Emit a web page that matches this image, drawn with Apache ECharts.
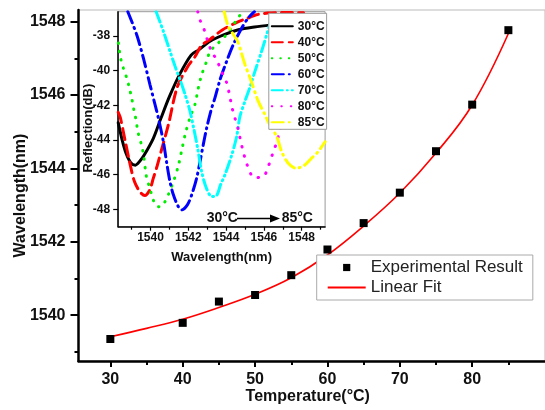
<!DOCTYPE html>
<html>
<head>
<meta charset="utf-8">
<script src="https://cdn.jsdelivr.net/npm/echarts@6/dist/echarts.min.js"></script>
<style>
html, body { margin: 0; padding: 0; background: #fff; }
#main { width: 545px; height: 410px; }
</style>
</head>
<body>
<div id="main"></div>
<script>
// main plot: peak wavelength vs temperature
var temps = [30, 40, 45, 50, 55, 60, 65, 70, 75, 80, 85];
var peakWl = [1539.35, 1539.79, 1540.37, 1540.55, 1541.09, 1541.79, 1542.51, 1543.34, 1544.47, 1545.74, 1547.77];
var fitT = [30, 35, 40, 45, 50, 55, 60, 65, 70, 75, 80, 85];
var fitWl = [1539.41, 1539.64, 1539.89, 1540.21, 1540.57, 1541.02, 1541.64, 1542.43, 1543.33, 1544.42, 1545.73, 1547.68];
var tempTicks = [30, 40, 50, 60, 70, 80];
var tempMinor = [35, 45, 55, 65, 75, 85];
var wlTicks = [1540, 1542, 1544, 1546, 1548];
var wlMinor = [1539, 1541, 1543, 1545, 1547];

// inset: reflection spectra [wavelength nm, dB]
var specNames = ['30°C', '40°C', '50°C', '60°C', '70°C', '80°C', '85°C'];
var spec30 = [[1538.29,-43.0],[1538.5,-44.0],[1538.7,-44.75],[1538.95,-45.3],[1539.2,-45.45],[1539.45,-45.2],[1539.65,-44.9],[1540.15,-43.9],[1540.55,-42.75],[1541.0,-41.5],[1541.55,-40.2],[1542.15,-39.1],[1542.55,-38.8],[1543.15,-38.3],[1543.9,-37.92],[1544.65,-37.64],[1545.5,-37.48],[1546.4,-37.36]];
var spec40 = [[1538.29,-42.4],[1538.4,-42.7],[1538.65,-44.0],[1538.9,-45.3],[1539.15,-46.4],[1539.45,-47.0],[1539.7,-47.2],[1539.95,-46.9],[1540.15,-46.2],[1540.35,-45.5],[1540.6,-44.5],[1540.95,-43.1],[1541.4,-41.0],[1541.95,-39.8],[1542.35,-39.2],[1542.7,-38.55],[1543.15,-38.2],[1543.8,-37.65],[1544.6,-37.2],[1545.2,-36.95],[1545.6,-36.78],[1546.2,-36.68],[1547.0,-36.65],[1548.1,-36.66]];
var spec50 = [[1538.3,-38.4],[1538.4,-39.2],[1538.56,-39.84],[1538.74,-40.42],[1538.88,-41.0],[1539.0,-41.57],[1539.1,-42.15],[1539.2,-42.65],[1539.35,-43.6],[1539.55,-44.4],[1539.65,-45.0],[1539.78,-46.1],[1539.94,-46.7],[1540.06,-47.15],[1540.24,-47.7],[1540.45,-47.85],[1540.68,-47.7],[1540.94,-47.16],[1541.21,-46.4],[1541.47,-45.5],[1541.65,-44.6],[1541.83,-43.7],[1542.09,-42.7],[1542.35,-41.96],[1542.53,-41.0],[1542.71,-40.23],[1542.97,-39.46],[1543.15,-38.88],[1543.41,-38.59],[1543.94,-38.02],[1544.3,-37.5],[1544.65,-36.92],[1544.9,-36.6]];
var spec60 = [[1538.8,-36.6],[1539.27,-37.93],[1539.62,-39.27],[1539.97,-40.8],[1540.24,-41.96],[1540.41,-42.7],[1540.68,-44.09],[1540.86,-45.34],[1541.03,-46.4],[1541.21,-47.16],[1541.47,-47.84],[1541.65,-48.03],[1541.95,-47.74],[1542.18,-47.16],[1542.44,-46.2],[1542.62,-45.25],[1542.79,-44.28],[1542.97,-43.32],[1543.2,-42.3],[1543.41,-41.57],[1543.68,-40.52],[1544.03,-39.46],[1544.38,-38.5],[1544.83,-37.54],[1545.17,-36.96],[1545.5,-36.6]];
var spec70 = [[1540.3,-36.6],[1540.68,-37.73],[1541.03,-38.88],[1541.3,-39.75],[1541.56,-40.52],[1541.83,-41.38],[1542.09,-42.34],[1542.3,-43.4],[1542.5,-44.5],[1542.7,-45.8],[1542.95,-46.75],[1543.24,-47.26],[1543.5,-47.2],[1543.7,-46.6],[1543.94,-46.0],[1544.3,-44.86],[1544.56,-43.8],[1544.73,-42.65],[1545.0,-41.76],[1545.28,-40.9],[1545.53,-40.03],[1545.88,-38.88],[1546.15,-37.92],[1546.35,-37.2]];
var spec80 = [[1542.5,-36.6],[1542.62,-37.08],[1542.88,-37.75],[1543.06,-38.42],[1543.24,-38.9],[1543.5,-39.38],[1543.77,-40.06],[1544.03,-40.7],[1544.2,-41.5],[1544.3,-42.07],[1544.47,-42.74],[1544.65,-43.42],[1544.74,-43.9],[1544.86,-44.47],[1545.0,-45.05],[1545.17,-45.59],[1545.48,-46.17],[1545.97,-46.11],[1546.23,-45.53],[1546.41,-44.96],[1546.59,-44.42],[1546.76,-43.8],[1546.95,-42.9],[1547.1,-42.0]];
var spec85 = [[1543.9,-36.6],[1544.12,-37.45],[1544.6,-38.3],[1545.0,-39.65],[1545.28,-40.45],[1545.7,-41.76],[1546.04,-42.5],[1546.3,-43.1],[1546.68,-43.8],[1546.94,-44.67],[1547.29,-45.34],[1547.7,-45.63],[1548.17,-45.44],[1548.52,-45.05],[1548.85,-44.7],[1549.24,-44.1]];
var insetXTicks = [1540, 1542, 1544, 1546, 1548];
var insetXMinor = [1539, 1541, 1543, 1545, 1547, 1549];
var insetYTicks = [-48, -46, -44, -42, -40, -38];

var FONT = 'Liberation Sans, Arial, sans-serif';
var specColors = ['#000000', '#ff0000', '#00ee00', '#0000ff', '#00ffff', '#ff00ff', '#ffff00'];
var specDash = ['solid', [11, 6], [0.5, 8], [12, 5, 1, 5], [11, 4, 1, 4, 1, 4], [0.5, 9], [12, 5, 1, 5]];
var specData = [spec30, spec40, spec50, spec60, spec70, spec80, spec85];

var chart = echarts.init(document.getElementById('main'));

function zip(a, b) {
    return a.map(function (v, i) { return [v, b[i]]; });
}
function plain(v) { return String(v); }

var specSeries = specNames.map(function (name, i) {
    return {
        name: name,
        type: 'line',
        xAxisIndex: 2,
        yAxisIndex: 2,
        data: specData[i],
        symbol: 'none',
        smooth: 0.3,
        lineStyle: { color: specColors[i], width: 3, type: specDash[i], cap: 'round' },
        itemStyle: { color: specColors[i] }
    };
});

var option = {
    animation: false,
    backgroundColor: '#fff',
    textStyle: { fontFamily: FONT },
    grid: [
        { left: 78.5, top: 10, right: -10, bottom: 48, show: true, borderColor: '#bbb', borderWidth: 1 },
        { left: 118.2, top: 11.7, width: 206.9, height: 215, show: true, borderColor: '#999', borderWidth: 1, backgroundColor: '#fff' }
    ],
    xAxis: [
        {
            type: 'value', gridIndex: 0, position: 'bottom', min: 25.6, max: 90.06,
            name: 'Temperature(°C)', nameLocation: 'middle', nameGap: 28, nameMoveOverlap: false,
            nameTextStyle: { fontSize: 16, fontWeight: 'bold', color: '#111', padding: [0, 8, 0, 0] },
            axisLine: { lineStyle: { color: '#000', width: 2.5 } },
            axisTick: { customValues: tempTicks, length: 6, lineStyle: { color: '#000', width: 2 } },
            axisLabel: { customValues: tempTicks, formatter: plain, fontSize: 16, fontWeight: 'bold', color: '#111', margin: 11 },
            splitLine: { show: false }
        },
        {
            type: 'value', gridIndex: 0, position: 'bottom', min: 25.6, max: 90.06,
            axisLine: { show: false },
            axisTick: { customValues: tempMinor, length: 4, lineStyle: { color: '#000', width: 2 } },
            axisLabel: { show: false },
            splitLine: { show: false }
        },
        {
            type: 'value', gridIndex: 1, position: 'bottom', min: 1538.29, max: 1549.24,
            name: 'Wavelength(nm)', nameLocation: 'middle', nameGap: 24, nameMoveOverlap: false,
            nameTextStyle: { fontSize: 13, fontWeight: 'bold', color: '#111' },
            axisLine: { lineStyle: { color: '#000', width: 1.5 } },
            axisTick: { customValues: insetXTicks, length: 4, lineStyle: { color: '#000', width: 1.2 } },
            axisLabel: { customValues: insetXTicks, formatter: plain, fontSize: 12, fontWeight: 'bold', color: '#111', margin: 5 },
            splitLine: { show: false }
        },
        {
            type: 'value', gridIndex: 1, position: 'bottom', min: 1538.29, max: 1549.24,
            axisLine: { show: false },
            axisTick: { customValues: insetXMinor, length: 3, lineStyle: { color: '#000', width: 1.2 } },
            axisLabel: { show: false },
            splitLine: { show: false }
        }
    ],
    yAxis: [
        {
            type: 'value', gridIndex: 0, position: 'left', min: 1538.75, max: 1548.32,
            name: 'Wavelength(nm)', nameLocation: 'middle', nameGap: 50, nameMoveOverlap: false,
            nameTextStyle: { fontSize: 16, fontWeight: 'bold', color: '#111', padding: [0, 20, 0, 0] },
            axisLine: { lineStyle: { color: '#000', width: 2.5 } },
            axisTick: { customValues: wlTicks, length: 8, lineStyle: { color: '#000', width: 2 } },
            axisLabel: { customValues: wlTicks, formatter: plain, fontSize: 16, fontWeight: 'bold', color: '#111', margin: 13 },
            splitLine: { show: false }
        },
        {
            type: 'value', gridIndex: 0, position: 'left', min: 1538.75, max: 1548.32,
            axisLine: { show: false },
            axisTick: { customValues: wlMinor, length: 4, lineStyle: { color: '#000', width: 2 } },
            axisLabel: { show: false },
            splitLine: { show: false }
        },
        {
            type: 'value', gridIndex: 1, position: 'left', min: -49.0, max: -36.6,
            name: 'Reflection(dB)', nameLocation: 'middle', nameGap: 23, nameMoveOverlap: false,
            nameTextStyle: { fontSize: 13, fontWeight: 'bold', color: '#111', padding: [0, 18, 0, 0] },
            axisLine: { lineStyle: { color: '#000', width: 1.5 } },
            axisTick: { customValues: insetYTicks, length: 5, lineStyle: { color: '#000', width: 1.2 } },
            axisLabel: { customValues: insetYTicks, formatter: plain, fontSize: 12, fontWeight: 'bold', color: '#111', margin: 8 },
            splitLine: { show: false }
        }
    ],
    legend: [
        {
            data: [
                { name: 'Experimental Result' },
                { name: 'Linear Fit', itemStyle: { opacity: 0 } }
            ],
            orient: 'vertical', left: 316.7, top: 255,
            padding: [4, 10, 4, 10], itemGap: 3, itemWidth: 38, itemHeight: 9,
            backgroundColor: '#fff', borderColor: '#aaa', borderWidth: 1,
            textStyle: { fontSize: 17, color: '#222', fontFamily: FONT }
        },
        {
            data: specNames,
            orient: 'vertical', left: 268.8, top: 13.3,
            padding: [7, 2, 1, 2], itemGap: 4, itemWidth: 21, itemHeight: 12,
            itemStyle: { opacity: 0 },
            backgroundColor: '#fff', borderColor: '#999', borderWidth: 1,
            textStyle: { fontSize: 12, fontWeight: 'bold', color: '#111', fontFamily: FONT }
        }
    ],
    series: [
        {
            name: 'Linear Fit', type: 'line', xAxisIndex: 0, yAxisIndex: 0,
            data: zip(fitT, fitWl), smooth: 0.4, symbol: 'none',
            lineStyle: { color: '#ff0000', width: 1.6 }, itemStyle: { color: '#ff0000' }
        },
        {
            name: 'Experimental Result', type: 'line', xAxisIndex: 0, yAxisIndex: 0,
            data: zip(temps, peakWl), symbol: 'rect', symbolSize: 8, showAllSymbol: true,
            lineStyle: { width: 0, opacity: 0 }, itemStyle: { color: '#000' }, z: 3
        }
    ].concat(specSeries),
    graphic: [
        { type: 'text', left: 206.7, top: 211, style: { text: '30°C', fontSize: 14, fontWeight: 'bold', fill: '#111', fontFamily: FONT } },
        { type: 'line', shape: { x1: 237, y1: 218.5, x2: 272, y2: 218.5 }, style: { stroke: '#000', lineWidth: 1.6 } },
        { type: 'polygon', shape: { points: [[270, 214.5], [280, 218.5], [270, 222.5]] }, style: { fill: '#000' } },
        { type: 'text', left: 281.7, top: 211, style: { text: '85°C', fontSize: 14, fontWeight: 'bold', fill: '#111', fontFamily: FONT } }
    ]
};

chart.setOption(option);
</script>
</body>
</html>
